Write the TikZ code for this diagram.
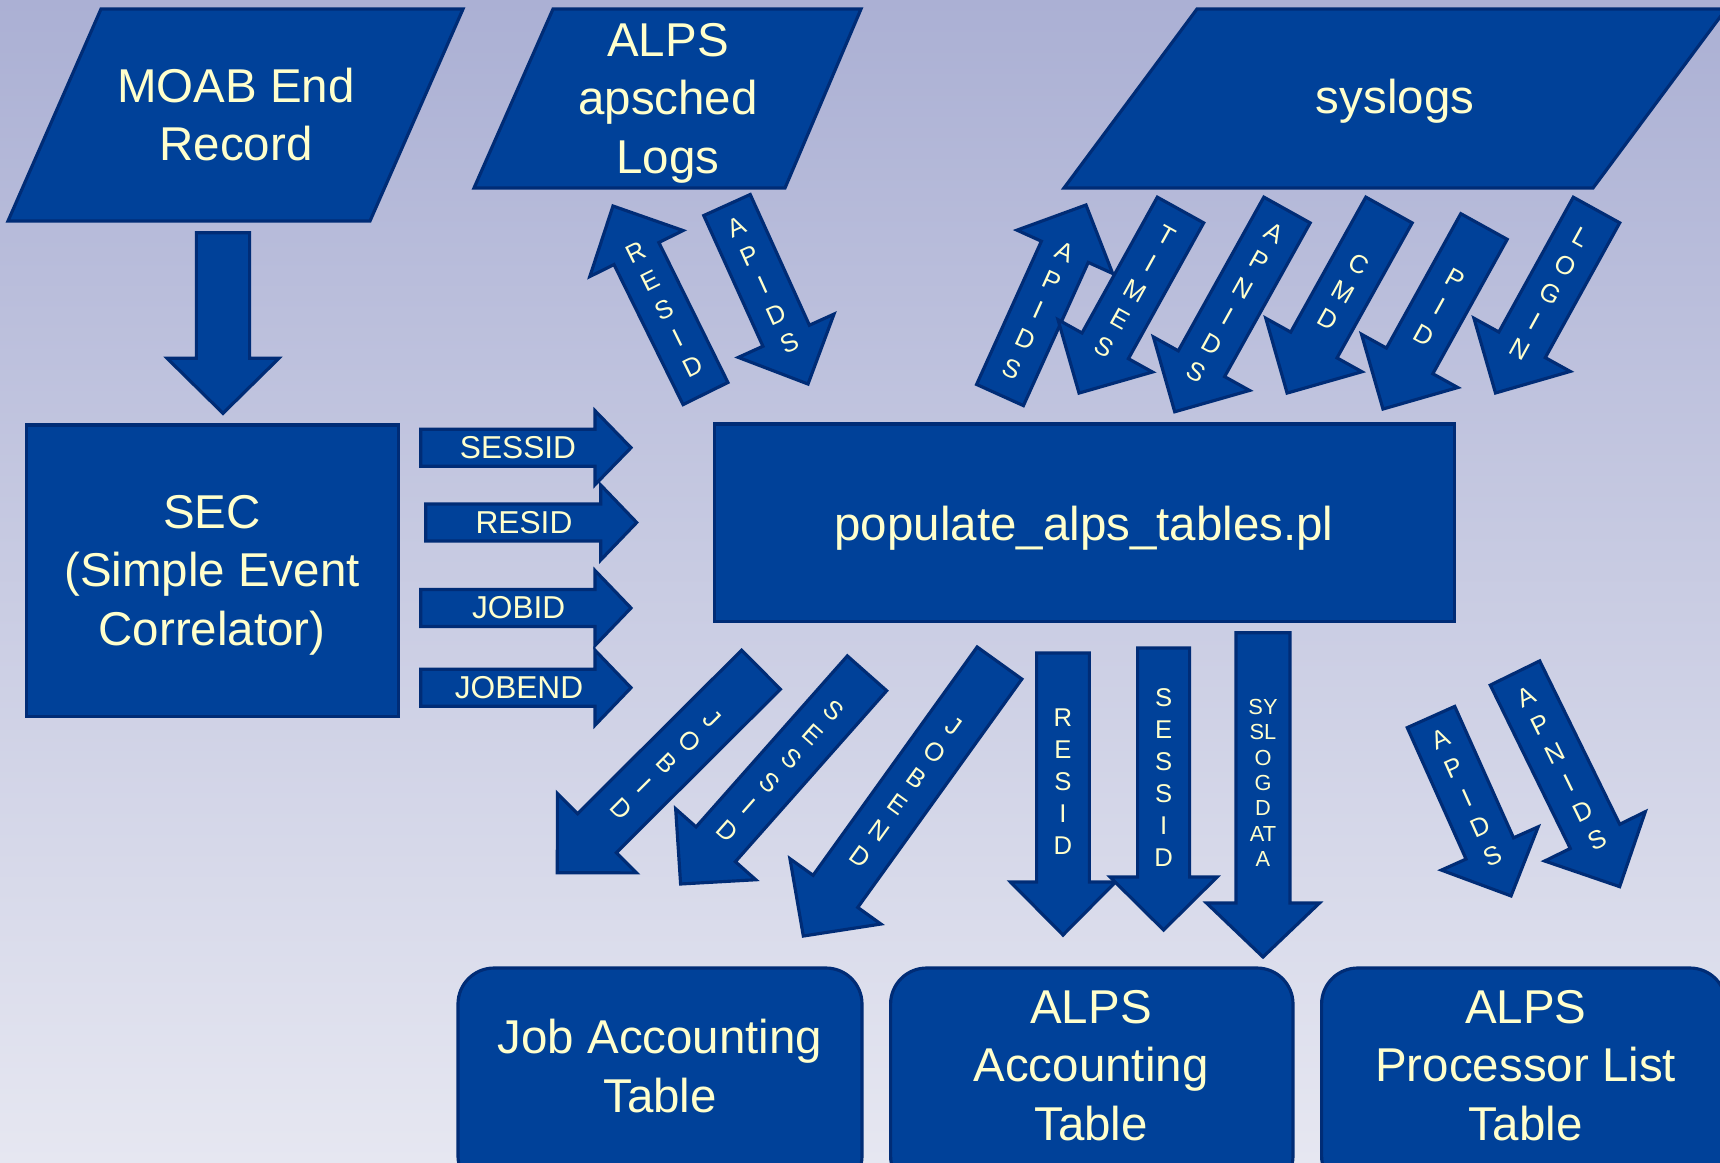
\documentclass[tikz,border=0pt]{standalone}
\usepackage{fontspec}
\setmainfont{Liberation Sans}

\definecolor{fillblue}{RGB}{0,65,153}
\definecolor{edgeblue}{RGB}{0,44,118}
\definecolor{textcream}{RGB}{255,255,204}
\definecolor{bgtop}{RGB}{171,176,212}
\definecolor{bgbottom}{RGB}{230,231,241}

\tikzset{
  shapebox/.style={fill=fillblue, draw=edgeblue, line width=0.9pt, line join=miter},
  blockarrow/.style={fill=fillblue, draw=edgeblue, line width=0.9pt, line join=miter},
  bigtext/.style={text=textcream, align=center, inner sep=0pt,
    font=\fontsize{13.5}{16.6}\selectfont},
  stacklabel/.style={text=textcream, align=center, inner sep=0pt,
    font=\fontsize{7.3}{9.1}\selectfont},
  flatlabel/.style={text=textcream, inner sep=0pt,
    font=\fontsize{9}{10.8}\selectfont},
}

% Block arrow: #1 tail midpoint, #2 direction angle, #3 total length,
% #4 shaft width, #5 head width, #6 head length
\newcommand\arrowbody[6]{%
  \begin{scope}[shift={(#1)},rotate=#2]
    \path[blockarrow] (0,{-(#4)/2}) -- ({#3-#6},{-(#4)/2}) -- ({#3-#6},{-(#5)/2})
      -- (#3,0) -- ({#3-#6},{(#5)/2}) -- ({#3-#6},{(#4)/2}) -- (0,{(#4)/2}) -- cycle;
  \end{scope}}

% Block arrow with a stacked label: #1 label name, #2..#7 as above,
% #8 label distance from the tail, #9 stacked letters
\newcommand\flowarrow[9]{%
  \arrowbody{#2}{#3}{#4}{#5}{#6}{#7}%
  \pgfmathsetmacro\lblrot{(#3)<0 ? (#3)+90 : (#3)-90}%
  \begin{scope}[shift={(#2)},rotate=#3]
    \node[stacklabel,rotate=\lblrot] (#1) at (#8,0) {#9};
  \end{scope}}

\begin{document}
\begin{tikzpicture}[x=0.01cm,y=-0.01cm]
  % background
  \fill[top color=bgtop, bottom color=bgbottom] (0,0) rectangle (1720,1162);
  \useasboundingbox (0,0) rectangle (1720,1162);

  % data sources
  \path[shapebox] (101,9) -- (463,9) -- (370,221) -- (8,221) -- cycle;
  \node[bigtext] (moab) at (236,114.5) {MOAB End\\Record};
  \path[shapebox] (553,9) -- (861,9) -- (785,188) -- (474,188) -- cycle;
  \node[bigtext] (alpslogs) at (668,103) {ALPS\\apsched\\Logs};
  \path[shapebox] (1197,9) -- (1726,9) -- (1593,188) -- (1064,188) -- cycle;
  \node[bigtext] (syslogs) at (1395,101) {syslogs};

  % processing
  \path[shapebox] (26.7,425) rectangle (398.5,716.7);
  \node[bigtext] (sec) at (212,575) {SEC\\(Simple Event\\Correlator)};
  \path[shapebox] (714.3,424) rectangle (1454.7,621.7);
  \node[bigtext] (populate) at (1084,528) {populate\_alps\_tables.pl};

  % database tables
  \path[shapebox, rounded corners=0.36cm] (458,968) rectangle (862,1192);
  \node[bigtext] (jobtable) at (660,1066) {Job Accounting\\Table};
  \path[shapebox, rounded corners=0.36cm] (890.6,968) rectangle (1293,1192);
  \node[bigtext] (alpsacct) at (1091,1065.5) {ALPS\\Accounting\\Table};
  \path[shapebox, rounded corners=0.36cm] (1321.6,968) rectangle (1726,1192);
  \node[bigtext] (alpsproc) at (1525.7,1065.5) {ALPS\\Processor List\\Table};

  % MOAB -> SEC
  \arrowbody{223,232.7}{-90}{180.6}{53.3}{111.7}{55}

  % ALPS apsched logs <-> script
  \flowarrow{alps-resid}{705.5,393.5}{116.26}{209.1}{50}{104}{53}{93.6}{R\\E\\S\\I\\D}
  \flowarrow{alps-apids}{727,205}{-65.65}{196.5}{51}{105}{53}{88}{A\\P\\I\\D\\S}

  % syslogs <-> script
  \flowarrow{sys-apids}{1000,395}{65.65}{208.6}{51.4}{105}{51.4}{93}{A\\P\\I\\D\\S}
  \flowarrow{sys-times}{1180.5,210}{-119.0}{209.3}{53}{108}{54}{93}{T\\I\\M\\E\\S}
  \flowarrow{sys-apnids}{1287,210}{-119.1}{230.9}{53}{110}{55}{106}{A\\P\\N\\I\\D\\S}
  \flowarrow{sys-cmd}{1389,210}{-119.1}{209.5}{53}{110}{55}{93.5}{C\\M\\D}
  \flowarrow{sys-pid}{1484,226.5}{-118.96}{208.6}{53}{110}{55}{91.8}{P\\I\\D}
  \flowarrow{sys-login}{1596.5,210}{-118.9}{209}{53}{110}{55}{95.3}{L\\O\\G\\I\\N}

  % SEC -> script
  \arrowbody{420.7,447.7}{0}{210.3}{37}{74}{36}
  \node[flatlabel] (sec-sessid) at (518,447.7) {SESSID};
  \arrowbody{425.7,522.5}{0}{211}{37}{75}{36}
  \node[flatlabel] (sec-resid) at (524,522.5) {RESID};
  \arrowbody{420.7,608}{0}{210.3}{37}{75}{36}
  \node[flatlabel] (sec-jobid) at (518.7,608) {JOBID};
  \arrowbody{420.7,687.7}{0}{210.3}{37}{75}{36}
  \node[flatlabel] (sec-jobend) at (519,687.7) {JOBEND};

  % script -> job accounting table
  \flowarrow{job-jobid}{761,669.7}{-135.1}{287.6}{55}{112}{56}{133}{J\\O\\B\\I\\D}
  \flowarrow{job-sessid}{867,673.3}{-131.5}{281.3}{52.5}{107}{53}{130}{S\\E\\S\\S\\I\\D}
  \flowarrow{job-jobend}{999.5,663}{-125.7}{336.2}{55}{112}{55}{158.2}{J\\O\\B\\E\\N\\D}

  % script -> ALPS accounting table
  \flowarrow{acct-resid}{1063,653}{-90}{282}{52.7}{105}{53}{129}{R\\E\\S\\I\\D}
  \flowarrow{acct-sessid}{1163.6,648}{-90}{282}{52}{107}{53}{129.5}{S\\E\\S\\S\\I\\D}
  \arrowbody{1263,632.7}{-90}{324.3}{54}{113}{54}
  \node[stacklabel, font=\fontsize{6.2}{7.2}\selectfont] (acct-syslogdata) at (1263,783)
    {SY\\SL\\O\\G\\D\\AT\\A};

  % script -> ALPS processor list table
  \flowarrow{proc-apids}{1431,717}{-65.9}{196}{52}{106}{52}{88.4}{A\\P\\I\\D\\S}
  \flowarrow{proc-apnids}{1515,673}{-63.9}{237.9}{55}{112}{56}{106.2}{A\\P\\N\\I\\D\\S}
\end{tikzpicture}
\end{document}
